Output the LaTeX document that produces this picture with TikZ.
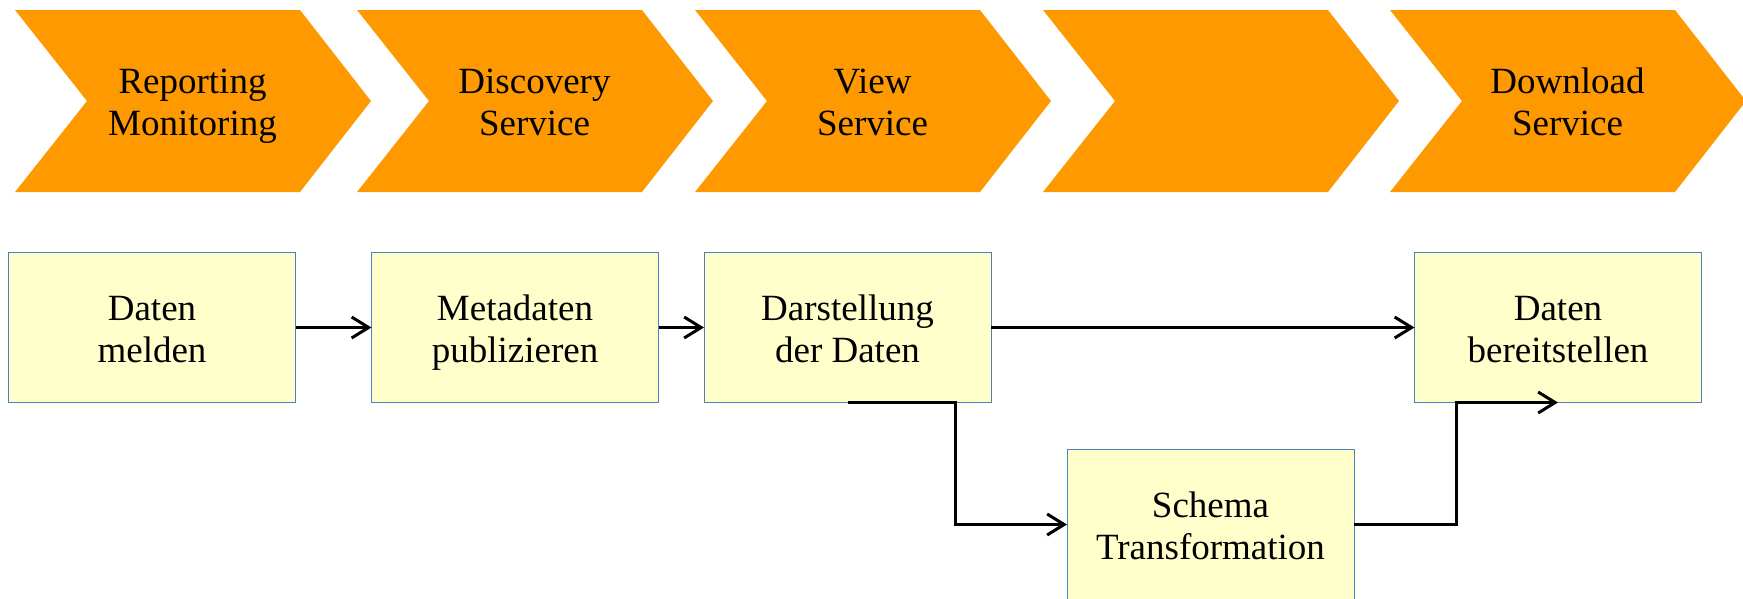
\documentclass[tikz,border=0pt]{standalone}
\usepackage{fontspec}
\setmainfont{Liberation Serif}
\usetikzlibrary{arrows.meta}
\definecolor{chevorange}{RGB}{255,153,0}
\definecolor{boxfill}{RGB}{255,255,204}
\definecolor{boxline}{RGB}{79,129,189}
\newcommand\twolines[2]{\vtop{\halign{\hfil##\hfil\cr#1\cr#2\cr}}}
\begin{document}
\begin{tikzpicture}[x=1pt,y=-1pt,
  chev/.style={fill=chevorange,draw=none},
  ctext/.style={font=\fontsize{37}{42}\selectfont,inner sep=0pt,anchor=base},
  procbox/.style={draw=boxline,line width=1pt,fill=boxfill,minimum width=287pt,minimum height=150pt,
    inner sep=0pt,outer sep=0pt,text height=30pt,text depth=45pt,font=\fontsize{37}{42}\selectfont},
  arr/.style={line width=3pt,-{Straight Barb[length=17pt,width=21pt]}}]
\useasboundingbox (0,0) rectangle (1743,598);
% chevrons
\foreach \xx in {15,357,695,1043,1390}{
  \path[chev] (\xx,10) -- ++(285,0) -- ++(71,91) -- ++(-71,91) -- ++(-285,0) -- ++(72,-91) -- cycle;
}
\node[ctext] (c1) at (192.5,93) {\twolines{Reporting}{Monitoring}};
\node[ctext] (c2) at (534.5,93) {\twolines{Discovery}{Service}};
\node[ctext] (c3) at (872.5,93) {\twolines{View}{Service}};
\node[ctext] (c5) at (1567.5,93) {\twolines{Download}{Service}};
% boxes
\node[procbox] (b1) at (152,327.5) {\twolines{Daten}{melden}};
\node[procbox] (b2) at (515,327.5) {\twolines{Metadaten}{publizieren}};
\node[procbox] (b3) at (847.5,327.5) {\twolines{Darstellung}{der Daten}};
\node[procbox] (b4) at (1558,327.5) {\twolines{Daten}{bereitstellen}};
\node[procbox] (b5) at (1210.5,524.5) {\twolines{Schema}{Transformation}};
% connectors
\draw[arr] (b1.east) -- (b2.west);
\draw[arr] (b2.east) -- (b3.west);
\draw[arr] (b3.east) -- (b4.west);
\draw[arr] (b3.south) -- ++(108,0) |- (b5.west);
\draw[arr] (b5.east) -- ++(102,0) |- (b4.south);
\end{tikzpicture}
\end{document}
